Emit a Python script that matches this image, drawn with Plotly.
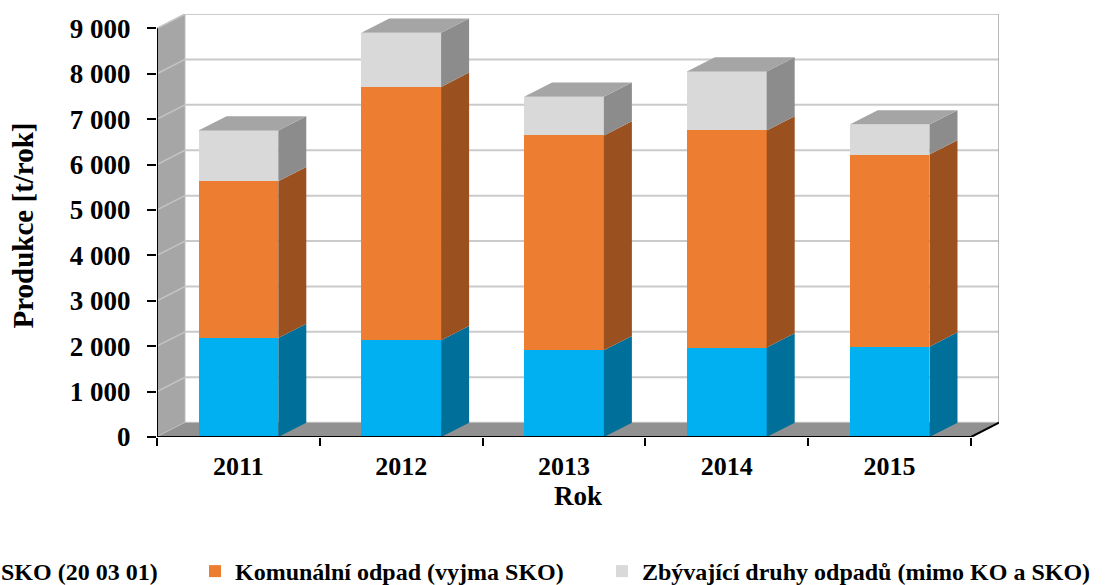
import plotly.graph_objects as go

# ---------------- data ----------------
years = ["2011", "2012", "2013", "2014", "2015"]
sko = [2180, 2130, 1910, 1970, 1990]                 # SKO (20 03 01)
komunalni = [3450, 5580, 4730, 4780, 4230]           # Komunální odpad (vyjma SKO)
zbyvajici = [1120, 1190, 850, 1300, 660]             # Zbývající druhy odpadů
series_names = ["SKO (20 03 01)",
                "Komunální odpad (vyjma SKO)",
                "Zbývající druhy odpadů (mimo KO a SKO)"]
y_ticks = [0, 1000, 2000, 3000, 4000, 5000, 6000, 7000, 8000, 9000]
y_title = "Produkce [t/rok]"
x_title = "Rok"

# ---------------- style ----------------
front_colors = ["#00B0F0", "#ED7D31", "#D9D9D9"]
side_colors = ["#00709A", "#9A501F", "#8C8C8C"]
top_color = "#A5A5A5"
wall_color = "#A6A6A6"
floor_color = "#919191"
grid_color = "#CACACA"
FONT = "Liberation Serif"
BAR_W = 0.49
DX = 0.172     # depth offset (category units)
DY = 315       # depth offset (value units)
legend_ids = ["legend", "legend2", "legend3"]
legend_x = [-0.2328, 0.0451, 0.5285]

series = [sko, komunalni, zbyvajici]
xs = list(range(len(years)))
x0, x1 = -0.5, len(years) - 0.5
ymax = y_ticks[-1]

fig = go.Figure()


def poly(pts):
    return "M " + " L ".join(f"{x},{y}" for x, y in pts) + " Z"


shapes = []
# left wall
shapes.append(dict(type="path", xref="x", yref="y", layer="below",
                   path=poly([(x0, 0), (x0, ymax), (x0 + DX, ymax + DY), (x0 + DX, DY)]),
                   fillcolor=wall_color, line=dict(color="#BDBDBD", width=1)))
# left wall grid + back wall grid
for v in y_ticks:
    shapes.append(dict(type="line", xref="x", yref="y", layer="below",
                       x0=x0, y0=v, x1=x0 + DX, y1=v + DY,
                       line=dict(color="#C4C4C4", width=1.5)))
    shapes.append(dict(type="line", xref="x", yref="y", layer="below",
                       x0=x0 + DX, y0=v + DY, x1=x1 + DX, y1=v + DY,
                       line=dict(color=grid_color, width=2)))
# back wall right edge
shapes.append(dict(type="line", xref="x", yref="y", layer="below",
                   x0=x1 + DX, y0=DY, x1=x1 + DX, y1=ymax + DY,
                   line=dict(color="#A0A0A0", width=1.5)))
# floor
shapes.append(dict(type="path", xref="x", yref="y", layer="below",
                   path=poly([(x0, 0), (x1, 0), (x1 + DX, DY), (x0 + DX, DY)]),
                   fillcolor=floor_color, line=dict(width=0)))

# front faces (bars)
bases = [0] * len(years)
seg_bounds = []
for i, vals in enumerate(series):
    fig.add_trace(go.Bar(
        x=xs, y=vals, base=bases, width=BAR_W, name=series_names[i],
        marker=dict(color=front_colors[i], line=dict(width=0)),
        legend=legend_ids[i], hoverinfo="skip"))
    tops = [b + v for b, v in zip(bases, vals)]
    seg_bounds.append((list(bases), tops))
    bases = tops

# side faces
for i, (bs, ts) in enumerate(seg_bounds):
    px, py = [], []
    for c, b, t in zip(xs, bs, ts):
        r = c + BAR_W / 2
        px += [r, r + DX, r + DX, r, r, None]
        py += [b, b + DY, t + DY, t, b, None]
    fig.add_trace(go.Scatter(x=px, y=py, mode="lines", fill="toself",
                             fillcolor=side_colors[i], line=dict(width=0),
                             showlegend=False, hoverinfo="skip"))
# top faces
tx, ty = [], []
for c, t in zip(xs, seg_bounds[-1][1]):
    l, r = c - BAR_W / 2, c + BAR_W / 2
    tx += [l, r, r + DX, l + DX, l, None]
    ty += [t, t, t + DY, t + DY, t, None]
fig.add_trace(go.Scatter(x=tx, y=ty, mode="lines", fill="toself",
                         fillcolor=top_color, line=dict(width=0),
                         showlegend=False, hoverinfo="skip"))

# axis lines
fig.add_trace(go.Scatter(x=[x0, x0], y=[0, ymax], mode="lines",
                         line=dict(color="black", width=2),
                         showlegend=False, hoverinfo="skip"))
fig.add_trace(go.Scatter(x=[x0, x1, x1 + DX], y=[0, 0, DY], mode="lines",
                         line=dict(color="black", width=2),
                         showlegend=False, hoverinfo="skip"))

xtick_font = dict(family=FONT, color="black", size=26, weight="bold")
ytick_font = dict(family=FONT, color="black", size=27, weight="bold")
legend_font = dict(family=FONT, size=24, weight="bold", color="black")
legends = {}
for lid, lx in zip(legend_ids, legend_x):
    legends[lid] = dict(orientation="h", x=lx, xanchor="left", y=-0.318, yanchor="middle",
                        font=legend_font, itemwidth=30, bgcolor="rgba(0,0,0,0)")

fig.update_layout(
    width=1109, height=585,
    margin=dict(l=157, r=110, t=14, b=148, autoexpand=False),
    paper_bgcolor="white", plot_bgcolor="white",
    barmode="overlay", bargap=0,
    shapes=shapes,
    font=dict(family=FONT, color="black"),
    xaxis=dict(range=[x0, x1 + DX], tickmode="array", tickvals=xs, ticktext=years,
               ticks="", showgrid=False, zeroline=False, showline=False,
               tickfont=xtick_font, ticklabelstandoff=11,
               minor=dict(tickmode="array", tickvals=[x0 + k for k in range(len(years) + 1)],
                          ticks="outside", ticklen=8, tickwidth=1.5, tickcolor="black",
                          showgrid=False),
               title=dict(text=x_title, font=dict(family=FONT, size=27, weight="bold", color="black"),
                          standoff=5)),
    yaxis=dict(range=[0, ymax + DY], tickmode="array", tickvals=y_ticks,
               ticktext=[f"{v:,}".replace(",", " ") for v in y_ticks],
               ticks="outside", ticklen=9, tickwidth=1.5, tickcolor="black",
               showgrid=False, zeroline=False, showline=False,
               tickfont=ytick_font, ticklabelstandoff=11,
               title=dict(text=y_title, font=dict(family=FONT, size=29, weight="bold", color="black"),
                          standoff=27)),
    showlegend=True,
    **legends,
)

fig.write_html("out.html", config={"displayModeBar": False},
               post_script="document.body.style.margin='0px';")
